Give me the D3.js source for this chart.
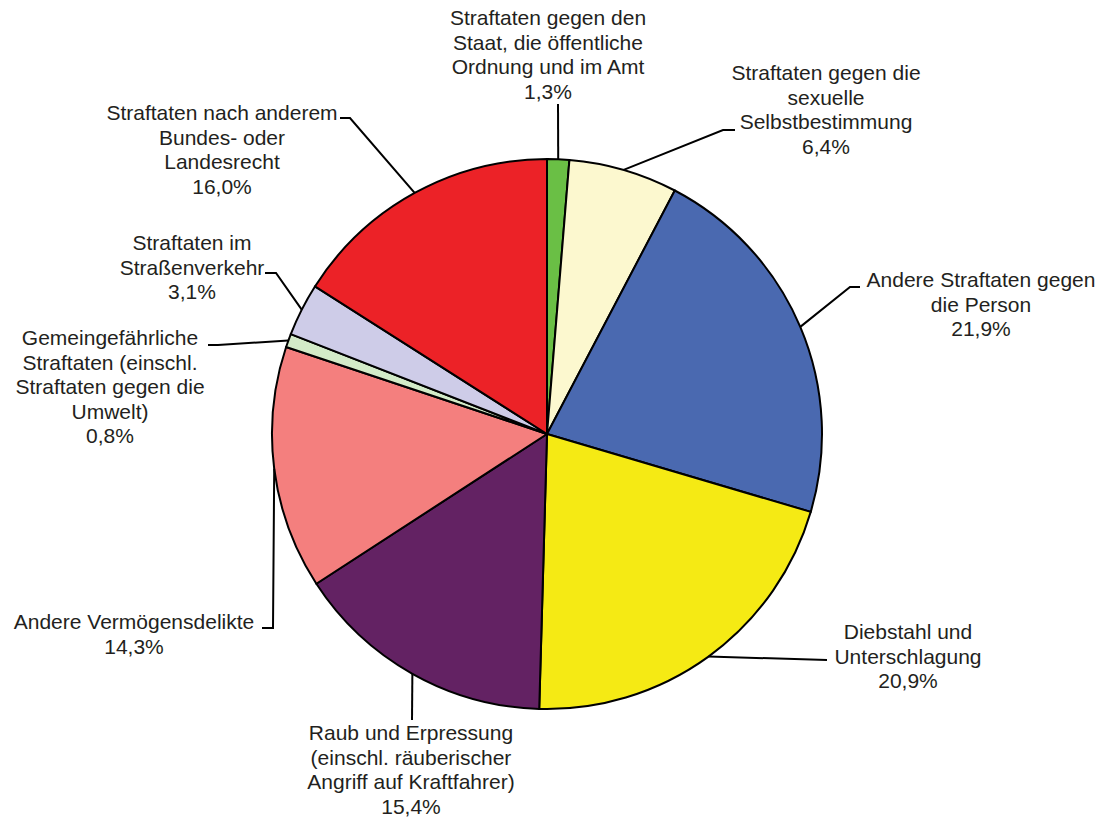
<!DOCTYPE html>
<html>
<head>
<meta charset="utf-8">
<script src="https://cdn.jsdelivr.net/npm/d3@7"></script>
<style>
  body { margin: 0; background: #fff; }
  text { font-family: "Liberation Sans", Arial, sans-serif; font-size: 21px; fill: #231f20; }
</style>
</head>
<body>
<script>
// Data (percent shares)
const categories = [
    "Straftaten gegen den|Staat, die öffentliche|Ordnung und im Amt",
    "Straftaten gegen die|sexuelle|Selbstbestimmung",
    "Andere Straftaten gegen|die Person",
    "Diebstahl und|Unterschlagung",
    "Raub und Erpressung|(einschl. räuberischer|Angriff auf Kraftfahrer)",
    "Andere Vermögensdelikte",
    "Gemeingefährliche|Straftaten (einschl.|Straftaten gegen die|Umwelt)",
    "Straftaten im|Straßenverkehr",
    "Straftaten nach anderem|Bundes- oder|Landesrecht"
];
const values = [1.3, 6.4, 21.9, 20.9, 15.4, 14.3, 0.8, 3.1, 16.0];
const valueLabels = ["1,3%", "6,4%", "21,9%", "20,9%", "15,4%", "14,3%", "0,8%", "3,1%", "16,0%"];
const colors = ["#6abf45", "#fcf8cf", "#4a69b0", "#f5ea14", "#632263", "#f47f7e", "#d3ebc8", "#cecce8", "#ec2227"];

// Label layout: text centre x, first baseline y, leader elbow + end points
const labelLayout = [
    { x: 548, y: 25,  pts: [[558, 104]] },
    { x: 826, y: 80,  pts: [[723, 130], [735, 130]] },
    { x: 981, y: 287, pts: [[850, 287], [860, 287]] },
    { x: 908, y: 639, pts: [[827, 660]] },
    { x: 411, y: 740, pts: [[412, 720]] },
    { x: 134, y: 629, pts: [[273, 628], [262, 628]] },
    { x: 110, y: 345, pts: [[218, 345], [208, 345]] },
    { x: 192, y: 250, pts: [[276, 273], [265, 273]] },
    { x: 222, y: 120, pts: [[350, 118], [340, 118]] }
];

const width = 1105, height = 823;
const cx = 547, cy = 434, radius = 275;
const lineHeight = 24.5;

const svg = d3.select("body").append("svg")
    .attr("width", width)
    .attr("height", height);

const pie = d3.pie().sort(null).value(d => d).startAngle(0).endAngle(2 * Math.PI);
const arcs = pie(values);

const arc = d3.arc().innerRadius(0).outerRadius(radius);
const edgeArc = d3.arc().innerRadius(radius).outerRadius(radius);

const g = svg.append("g").attr("transform", `translate(${cx},${cy})`);

g.selectAll("path.slice")
    .data(arcs)
    .enter()
    .append("path")
    .attr("class", "slice")
    .attr("d", arc)
    .attr("fill", (d, i) => colors[i])
    .attr("stroke", "#000")
    .attr("stroke-width", 2)
    .attr("stroke-linejoin", "round");

// Leader lines
const line = d3.line();
arcs.forEach((d, i) => {
    const start = edgeArc.centroid(d);
    const p0 = [start[0] + cx, start[1] + cy];
    svg.append("path")
        .attr("d", line([p0].concat(labelLayout[i].pts)))
        .attr("fill", "none")
        .attr("stroke", "#000")
        .attr("stroke-width", 2);
});

// Labels
categories.forEach((c, i) => {
    const lines = c.split("|").concat([valueLabels[i]]);
    const t = svg.append("text")
        .attr("text-anchor", "middle")
        .attr("x", labelLayout[i].x)
        .attr("y", labelLayout[i].y);
    lines.forEach((l, j) => {
        t.append("tspan")
            .attr("x", labelLayout[i].x)
            .attr("dy", j === 0 ? 0 : lineHeight)
            .text(l);
    });
});
</script>
</body>
</html>
